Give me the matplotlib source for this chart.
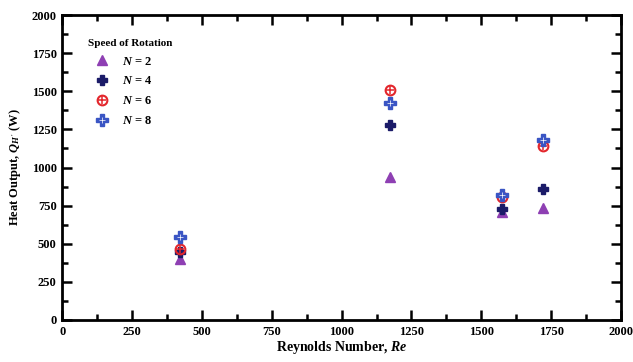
import numpy as np
import matplotlib
matplotlib.use("Agg")
import matplotlib.pyplot as plt
from matplotlib.ticker import MultipleLocator

plt.rcParams['font.family'] = 'Liberation Serif'
plt.rcParams['font.weight'] = 'bold'
plt.rcParams['mathtext.fontset'] = 'custom'
plt.rcParams['mathtext.rm'] = 'Liberation Serif:bold'
plt.rcParams['mathtext.it'] = 'Liberation Serif:italic:bold'
plt.rcParams['mathtext.bf'] = 'Liberation Serif:bold'

# data
re = [423, 1173, 1575, 1720]
q_n2 = [397, 938, 705, 737]
q_n4 = [445, 1276, 726, 858]
q_n6 = [465, 1506, 805, 1140]
q_n8 = [545, 1425, 818, 1183]

purple = '#8e3fb3'
navy = '#1b1b68'
red = '#e3262c'
blue = '#3a55c4'

fig = plt.figure(figsize=(6.33, 3.62), dpi=100)
ax = fig.add_axes([62.3 / 633, 1 - 320 / 362, (621 - 62.3) / 633, (320 - 15) / 362])

h2, = ax.plot(re, q_n2, ls='none', marker='^', ms=7, color=purple)
h4, = ax.plot(re, q_n4, ls='none', marker='P', ms=7, color=navy, mec=navy)
h6a, = ax.plot(re, q_n6, ls='none', marker='o', ms=7, mfc='none', mec=red, mew=1.5)
h6b, = ax.plot(re, q_n6, ls='none', marker='+', ms=6, color=red, mew=1.1)
h8a, = ax.plot(re, q_n8, ls='none', marker='P', ms=8.5, color=blue, mec=blue)
h8b, = ax.plot(re, q_n8, ls='none', marker='+', ms=4, color='white', mew=0.5)

ax.set_xlim(0, 2000)
ax.set_ylim(0, 2000)
ax.xaxis.set_major_locator(MultipleLocator(250))
ax.xaxis.set_minor_locator(MultipleLocator(125))
ax.yaxis.set_major_locator(MultipleLocator(250))
ax.yaxis.set_minor_locator(MultipleLocator(125))
ax.tick_params(which='both', direction='in', top=True, right=True, width=1.8)
ax.tick_params(which='major', length=7, labelsize=9, pad=4)
ax.tick_params(which='minor', length=4)
for s in ax.spines.values():
    s.set_linewidth(2)

ax.set_xlabel('Reynolds Number, $Re$', fontsize=10, fontweight='bold', labelpad=1)
ax.set_ylabel("Heat Output, $Q_{H'}$ (W)", fontsize=9, fontweight='bold', labelpad=6)

leg = ax.legend([h2, h4, (h6a, h6b), (h8a, h8b)],
                ['$N$ = 2', '$N$ = 4', '$N$ = 6', '$N$ = 8'],
                title='Speed of Rotation', loc='upper left', alignment='left',
                bbox_to_anchor=(0.03, 0.95), frameon=False, fontsize=9,
                title_fontsize=8, handlelength=2.2, handletextpad=0.5,
                labelspacing=0.62, borderaxespad=0.3)
leg.get_title().set_fontweight('bold')

fig.savefig('out.png', dpi=100)
